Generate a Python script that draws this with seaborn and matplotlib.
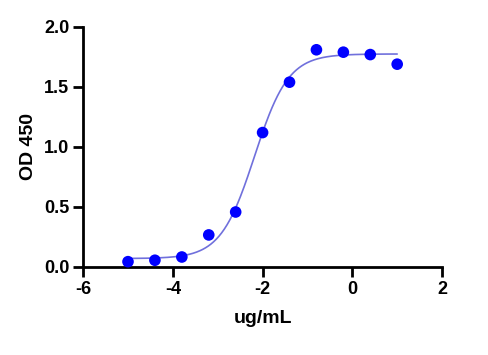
"""Dose-response ELISA curve: OD 450 vs log concentration."""

import numpy as np
import pandas as pd
import matplotlib
matplotlib.use("Agg")
import matplotlib.pyplot as plt
import seaborn as sns

# measured points (log10 ug/mL, OD 450)
log_conc = [-5.0, -4.4, -3.8, -3.2, -2.6, -2.0, -1.4, -0.8, -0.2, 0.4, 1.0]
od450 = [0.044, 0.056, 0.083, 0.267, 0.458, 1.12, 1.54, 1.81, 1.79, 1.77, 1.69]

# four-parameter logistic fit shown as the line
FIT_BOTTOM = 0.07
FIT_TOP = 1.775
FIT_LOGEC50 = -2.18
FIT_HILL = 1.15

X_TICKS = [-6, -4, -2, 0, 2]
Y_TICKS = [0.0, 0.5, 1.0, 1.5, 2.0]


def logistic(x):
    return FIT_BOTTOM + (FIT_TOP - FIT_BOTTOM) / (1 + 10 ** ((FIT_LOGEC50 - x) * FIT_HILL))


def main() -> None:
    sns.set_style("ticks")
    plt.rcParams["font.family"] = ["Liberation Sans", "DejaVu Sans"]
    plt.rcParams["font.weight"] = "bold"
    plt.rcParams["axes.unicode_minus"] = False
    plt.rcParams["text.color"] = "black"
    plt.rcParams["axes.labelcolor"] = "black"
    plt.rcParams["xtick.color"] = "black"
    plt.rcParams["ytick.color"] = "black"

    points = pd.DataFrame({"x": log_conc, "y": od450})
    xs = np.linspace(min(log_conc), max(log_conc), 300)
    curve = pd.DataFrame({"x": xs, "y": logistic(xs)})

    fig = plt.figure(figsize=(4.89, 3.55), dpi=100)
    ax = fig.add_axes([0.170, 0.248, 0.734, 0.676])

    sns.lineplot(data=curve, x="x", y="y", ax=ax, color="#7070dc", linewidth=1.2)
    sns.scatterplot(data=points, x="x", y="y", ax=ax, color="#0000ff",
                    s=70, edgecolor="none", zorder=3, clip_on=False)

    ax.set_xlim(-6, 2)
    ax.set_ylim(0, 2.0)
    ax.set_xticks(X_TICKS)
    ax.set_yticks(Y_TICKS)
    ax.set_yticklabels([f"{v:.1f}" for v in Y_TICKS])
    ax.set_xlabel("ug/mL", fontsize=14, fontweight="bold", labelpad=9)
    ax.set_ylabel("OD 450", fontsize=14, fontweight="bold", labelpad=5)
    ax.tick_params(axis="both", width=2, length=7.5, labelsize=13,
                   color="black", labelcolor="black", pad=2.5)
    for lab in ax.get_xticklabels() + ax.get_yticklabels():
        lab.set_fontweight("bold")
    for side in ("left", "bottom"):
        ax.spines[side].set_linewidth(2)
        ax.spines[side].set_color("black")
    sns.despine(ax=ax)

    fig.savefig("out.png", dpi=100)
    plt.close(fig)


if __name__ == "__main__":
    main()
